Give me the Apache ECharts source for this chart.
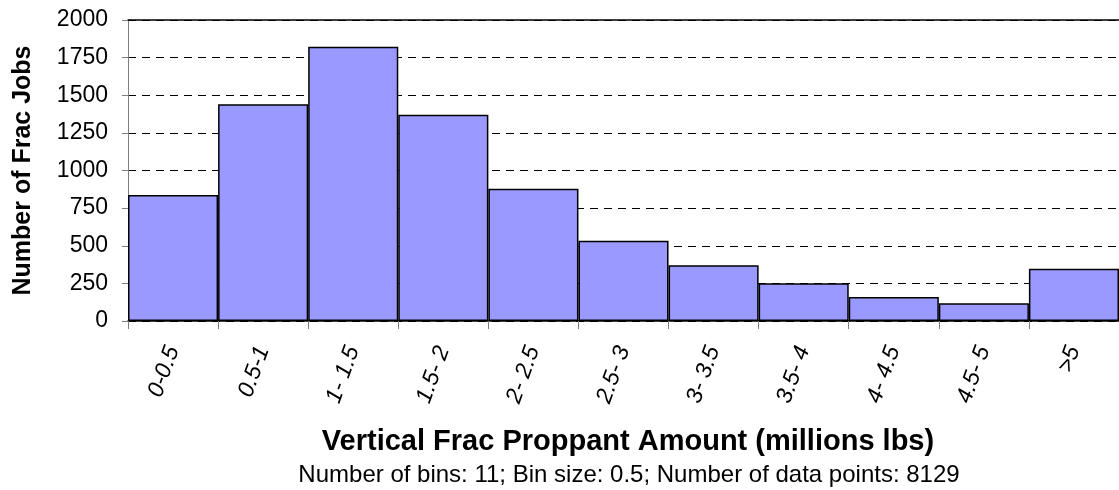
<!DOCTYPE html>
<html><head><meta charset="utf-8">
<script src="https://cdn.jsdelivr.net/npm/echarts@6/dist/echarts.min.js"></script>
<style>html,body{margin:0;padding:0;background:#fff}#c{width:1119px;height:490px}</style>
</head><body><div id="c"></div>
<script>
const categories = ['0-0.5','0.5-1','1- 1.5','1.5- 2','2- 2.5','2.5- 3','3- 3.5','3.5- 4','4- 4.5','4.5- 5','>5'];
const counts = [838, 1440, 1822, 1371, 878, 533, 371, 251, 160, 118, 347];
const yTicks = [0, 250, 500, 750, 1000, 1250, 1500, 1750, 2000];
const xTitle = 'Vertical Frac Proppant Amount (millions lbs)';
const yTitle = 'Number of Frac Jobs';
const subTitle = 'Number of bins: 11; Bin size: 0.5; Number of data points: 8129';

const FONT = '"Liberation Sans", Arial, sans-serif';
const chart = echarts.init(document.getElementById('c'), null, {renderer: 'canvas'});
chart.setOption({
  animation: false,
  grid: {left: 128, right: 0, top: 20, bottom: 169, containLabel: false},
  xAxis: [{
    type: 'category', data: categories, boundaryGap: true,
    axisLine: {lineStyle: {color: '#000', width: 1.5}},
    axisTick: {show: true, alignWithLabel: false, length: 8, lineStyle: {color: '#808080'}},
    axisLabel: {rotate: 70, margin: 26, fontFamily: FONT, fontSize: 23, fontStyle: 'italic', color: '#000', interval: 0},
    splitLine: {show: false}
  }, {
    type: 'category', data: categories, position: 'top',
    axisLine: {show: true, lineStyle: {color: '#000', width: 1.5}},
    axisTick: {show: false}, axisLabel: {show: false}
  }],
  yAxis: {
    type: 'value', min: yTicks[0], max: yTicks[yTicks.length - 1], interval: 250,
    axisLine: {show: true, lineStyle: {color: '#808080', width: 1}},
    axisTick: {show: true, length: 6, lineStyle: {color: '#808080'}},
    axisLabel: {fontFamily: FONT, fontSize: 23, color: '#000', margin: 20, formatter: v => String(v)},
    splitLine: {show: true, lineStyle: {color: '#000', type: [8, 6], width: 1}},
    name: yTitle, nameLocation: 'middle', nameGap: 92, nameRotate: 90,
    nameTextStyle: {fontFamily: FONT, fontSize: 25, fontWeight: 'bold', color: '#000'}
  },
  series: [{
    type: 'bar', data: counts, barCategoryGap: 0, barGap: 0,
    itemStyle: {color: '#9999FF', borderColor: '#000', borderWidth: 1.5},
    z: 3
  }],
  title: [
    {text: xTitle, left: 628, top: 427, textAlign: 'center',
     textStyle: {fontFamily: FONT, fontSize: 29, fontWeight: 'bold', color: '#000'}, padding: 0},
    {text: subTitle, left: 629, top: 463, textAlign: 'center',
     textStyle: {fontFamily: FONT, fontSize: 24, fontWeight: 'normal', color: '#000'}, padding: 0}
  ]
});
</script></body></html>
